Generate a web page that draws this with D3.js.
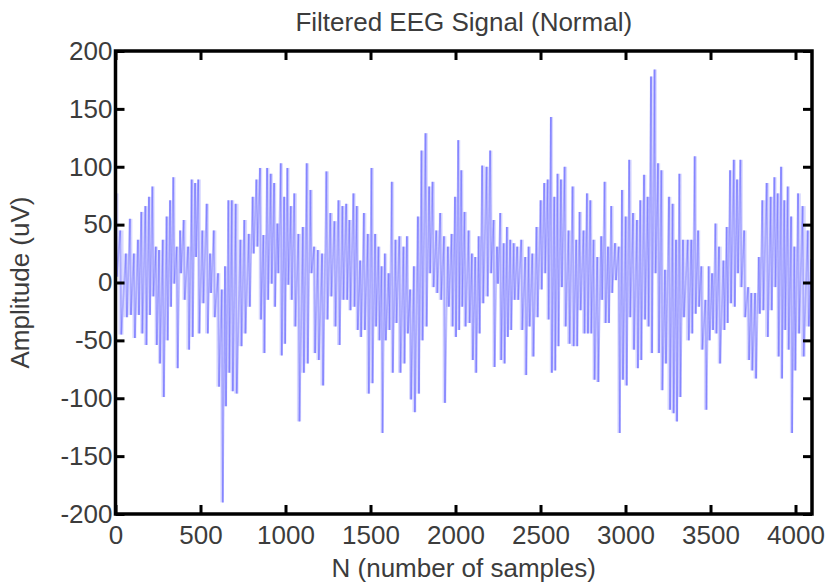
<!DOCTYPE html>
<html>
<head>
<meta charset="utf-8">
<script src="https://cdn.jsdelivr.net/npm/d3@7"></script>
<style>
  html, body { margin: 0; padding: 0; background: #ffffff; }
  svg { display: block; }
</style>
</head>
<body>
<svg id="chart" width="825" height="584"></svg>
<script>
// Filtered EEG record, 4097 samples. Each reading window is summarised by its
// centre sample index and the highest / lowest amplitude reached in it (uV).
const sampleIdx = [
  4, 31, 64, 88, 111, 135, 155, 179, 200, 220, 240, 259, 281, 304, 324, 343, 363, 383, 404, 430,
  451, 471, 490, 514, 540, 559, 581, 606, 628, 647, 667,
  687, 710, 738, 761, 787, 810, 832, 853, 873, 895, 916, 936, 955, 975, 995, 1014, 1034, 1055, 1079,
  1105, 1128, 1150, 1171, 1193, 1218, 1244, 1267, 1291, 1315, 1338,
  1360, 1379, 1403, 1422, 1442, 1464, 1487, 1509, 1530, 1550, 1568, 1587, 1609, 1628, 1650, 1673,
  1697, 1717, 1736, 1758, 1782, 1803, 1827, 1848, 1868, 1890, 1913, 1935, 1958, 1980, 2000, 2019,
  2037, 2056, 2080, 2099, 2119, 2139, 2160, 2186, 2207, 2227, 2247, 2266, 2286, 2305, 2325, 2345,
  2366, 2390, 2413, 2433, 2455, 2480, 2504, 2525, 2545, 2564, 2584, 2603, 2623, 2645, 2668, 2692,
  2713, 2733, 2756, 2776, 2796, 2815, 2837, 2860, 2880, 2900, 2919, 2941, 2963, 2982, 3004, 3025,
  3047, 3070, 3090, 3112, 3133, 3153, 3174, 3194, 3214, 3235, 3259, 3280, 3300, 3320, 3341, 3369,
  3390, 3410, 3430, 3449, 3473, 3492, 3512, 3532, 3553, 3579, 3598, 3618, 3640, 3659, 3679, 3701,
  3724, 3743, 3765, 3787, 3808, 3834, 3857, 3879, 3898, 3918, 3937, 3957, 3977, 3996, 4018, 4045,
  4075, 4096
];
const peakHigh = [
  77, 45, 25, 55, 25, 37, 61, 66, 74, 83, 31, 28, 37, 57, 71, 91, 31, 45, 54, 31,
  89, 86, 89, 45, 68, 25, 45, 8, -6, 14, 71,
  71, 68, 37, 54, 42, 74, 89, 99, 41, 99, 94, 86, 51, 103, 74, 99, 66, 77, 42,
  48, 103, 80, 31, 28, 25, 96, 60, 53, 71, 66,
  68, 54, 77, 66, 19, 60, 42, 99, 42, 31, 14, 25, 8, 87, 37, 40,
  31, 40, -6, 14, 57, 114, 129, 83, 87, 45, 60, 40, 31, 42, 74, 123,
  97, 61, 45, 25, 22, 40, 101, 100, 114, 54, 31, 60, 34, 48, 37, 34,
  31, 37, 22, 31, 25, 48, 71, 86, 89, 143, 74, 94, 89, 100, 45, 83,
  37, 61, 45, 77, 71, 37, 22, 40, 87, 31, 66, 34, 31, 80, 57, 106,
  60, 54, 71, 93, 74, 178, 184, 103, 97, 11, 74, 68, 37, 94, 37, 37,
  37, 109, 45, 14, -15, 14, 8, 51, 31, 19, 48, 97, 106, 89, 106, 45,
  -4, -9, -9, 22, 71, 86, 74, 91, 77, 100, 71, 83, 57, 31, 77, 66,
  45, 20
];
const peakLow = [
  5, -45, -30, -28, -48, -28, -44, -54, -28, -12, -54, -70, -99, -50, -21, -1, -74, 8, -15, -58,
  -47, 22, -44, -18, -44, -9, -30, -90, -190, -107, -78,
  -94, -96, -55, -44, -21, 25, 31, -32, -61, -15, -1, -21, 8, -63, -53, -2, -15, -38, -120,
  -78, -70, 8, -61, -67, -89, -32, -12, -38, -54, -15,
  -15, -24, -21, -41, -47, -41, -96, -87, -38, -50, -130, -50, -41, -78, -35, -78,
  -70, -44, -101, -112, -96, -50, -38, 8, -4, -9, -15, -104, -21, -38, -47, -41,
  -21, -38, -35, -67, -78, -44, -18, -12, 8, -73, -1, -67, -70, -47, -41, -15,
  -15, -41, -80, -38, -64, -30, -6, 8, -32, -78, -76, -55, -4, -38, -53, -55,
  -55, -24, -44, -44, -44, -84, -86, -15, -35, -35, -9, 2, -130, -84, -89, -30,
  -58, -74, -67, -32, -38, -61, 8, -61, -93, -70, -110, -113, -120, -99, -30, -50,
  -44, -27, -21, -58, -110, -50, -41, -44, -70, -41, -35, -18, -21, 8, -4, -30,
  -67, -76, -83, -27, -24, -47, -24, -4, -64, -83, -41, -58, -130, -76, -44, -64,
  -38, -38
];

const xTickValues = [0, 500, 1000, 1500, 2000, 2500, 3000, 3500, 4000];
const yTickValues = [-200, -150, -100, -50, 0, 50, 100, 150, 200];
const sampleCount = 4097;
const amplitudeRange = [-200, 200];

const titleText = "Filtered EEG Signal (Normal)";
const xLabelText = "N (number of samples)";
const yLabelText = "Amplitude (uV)";

// ---- layout ----
const plot = { left: 115.5, right: 812, top: 51, bottom: 514 };
const font = "'Liberation Sans', Arial, Helvetica, sans-serif";
const textColor = "#3c3c3c";

const svg = d3.select("#chart");

const x = d3.scaleLinear().domain([0, sampleCount]).range([plot.left, plot.right]);
const y = d3.scaleLinear().domain(amplitudeRange).range([plot.bottom, plot.top]);

// windows: each spans halfway to its neighbours
const windows = sampleIdx.map((n, i) => ({
  from: i === 0 ? 0 : (sampleIdx[i - 1] + n) / 2,
  to: i === sampleIdx.length - 1 ? sampleCount : (n + sampleIdx[i + 1]) / 2,
  n, hi: peakHigh[i], lo: peakLow[i]
}));

// zig-zag trace through each window's high and low excursion
const trace = [];
windows.forEach(w => {
  trace.push([Math.max(0, w.n - 3), w.hi]);
  trace.push([Math.min(sampleCount - 1, w.n + 3), w.lo]);
});

const defs = svg.append("defs");
defs.append("clipPath").attr("id", "plotClip")
  .append("rect")
  .attr("x", plot.left).attr("y", plot.top)
  .attr("width", plot.right - plot.left).attr("height", plot.bottom - plot.top);
defs.append("filter").attr("id", "soften")
  .attr("x", "-5%").attr("y", "-5%").attr("width", "110%").attr("height", "110%")
  .append("feGaussianBlur").attr("stdDeviation", 0.5);

const sig = svg.append("g").attr("clip-path", "url(#plotClip)")
  .append("g").attr("filter", "url(#soften)");

// light envelope of every window (the dense trace sweeps its whole range)
sig.selectAll("rect.env")
  .data(windows)
  .join("rect")
  .attr("class", "env")
  .attr("x", d => x(d.from))
  .attr("width", d => x(d.to) - x(d.from))
  .attr("y", d => y(d.hi))
  .attr("height", d => y(d.lo) - y(d.hi))
  .attr("fill", "#0000ff")
  .attr("fill-opacity", 0.15);

// trace strokes; overlapping pieces build up darker cores
sig.selectAll("line.seg")
  .data(d3.pairs(trace))
  .join("line")
  .attr("class", "seg")
  .attr("x1", d => x(d[0][0])).attr("y1", d => y(d[0][1]))
  .attr("x2", d => x(d[1][0])).attr("y2", d => y(d[1][1]))
  .attr("stroke", "#0000ff")
  .attr("stroke-opacity", 0.22)
  .attr("stroke-width", 1.8)
  .attr("stroke-linecap", "butt");

// ---- axes with inward ticks on all four sides ----
const tickLen = 9;
function styleAxis(g) {
  g.select(".domain").remove();
  g.selectAll(".tick line").attr("stroke", "#000").attr("stroke-width", 3);
  g.selectAll(".tick text")
    .attr("fill", textColor)
    .style("font-family", font)
    .style("font-size", "26px");
}

svg.append("g")
  .attr("transform", `translate(0,${plot.bottom})`)
  .call(d3.axisBottom(x).tickValues(xTickValues).tickSize(-tickLen).tickPadding(12).tickFormat(d3.format("d")))
  .call(styleAxis);

svg.append("g")
  .attr("transform", `translate(0,${plot.top})`)
  .call(d3.axisTop(x).tickValues(xTickValues).tickSize(-tickLen).tickFormat(""))
  .call(styleAxis);

svg.append("g")
  .attr("transform", `translate(${plot.left},0)`)
  .call(d3.axisLeft(y).tickValues(yTickValues).tickSize(-tickLen).tickPadding(3).tickFormat(d => String(d)))
  .call(styleAxis);

svg.append("g")
  .attr("transform", `translate(${plot.right},0)`)
  .call(d3.axisRight(y).tickValues(yTickValues).tickSize(-tickLen).tickFormat(""))
  .call(styleAxis);

// frame
svg.append("rect")
  .attr("x", plot.left).attr("y", plot.top)
  .attr("width", plot.right - plot.left).attr("height", plot.bottom - plot.top)
  .attr("fill", "none").attr("stroke", "#000").attr("stroke-width", 3.5);

// ---- titles ----
const midX = (plot.left + plot.right) / 2;
svg.append("text")
  .attr("x", midX).attr("y", 31)
  .attr("text-anchor", "middle")
  .attr("fill", textColor)
  .style("font-family", font).style("font-size", "26px")
  .text(titleText);

svg.append("text")
  .attr("x", midX).attr("y", 577)
  .attr("text-anchor", "middle")
  .attr("fill", textColor)
  .style("font-family", font).style("font-size", "26px")
  .text(xLabelText);

svg.append("text")
  .attr("transform", `translate(29,${(plot.top + plot.bottom) / 2}) rotate(-90)`)
  .attr("text-anchor", "middle")
  .attr("fill", textColor)
  .style("font-family", font).style("font-size", "26px")
  .text(yLabelText);
</script>
</body>
</html>
